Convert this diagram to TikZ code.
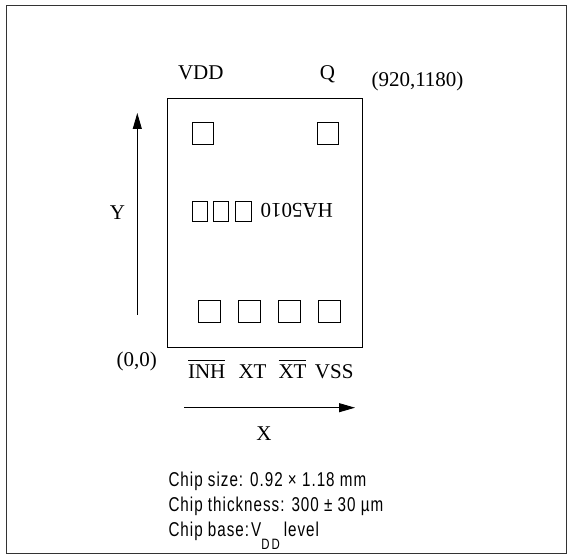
\documentclass[tikz,border=0pt]{standalone}
\usepackage{fontspec}
\setmainfont{Liberation Serif}
\newfontfamily\notefont[FakeStretch=0.76,LetterSpace=5]{Liberation Sans}
\usetikzlibrary{arrows.meta}
\newcommand{\ovlbar}[1]{\ensuremath{\overline{\mbox{#1}\rule{0pt}{17pt}}}}
\tikzset{
  pad/.style={draw, line width=0.9pt, inner sep=0pt, minimum width=21.5pt, minimum height=21.5pt},
  smallpad/.style={draw, line width=0.9pt, inner sep=0pt, minimum height=20pt},
  lbl/.style={font=\fontsize{21}{21}\selectfont, inner sep=0pt, anchor=base},
  note/.style={font=\notefont\fontsize{20}{20}\selectfont, inner sep=0pt, anchor=base west},
  axis/.style={line width=0.9pt, -{Triangle[length=16pt,width=9pt]}}
}
\begin{document}
\begin{tikzpicture}[x=1pt,y=-1pt]
\useasboundingbox (0,0) rectangle (568,556);
\draw[line width=1.3pt, black!80] (6.5,5.5) rectangle (566.5,553.5);
% chip
\node[draw, line width=1.1pt, inner sep=0pt, minimum width=195.3pt, minimum height=249.4pt] (chip) at (264.7,223) {};
% pads
\node[pad] (pvdd) at (202.7,133.5) {};
\node[pad] (pq) at (328,133.5) {};
\node[smallpad, minimum width=14.6pt] (m1) at (200,211.7) {};
\node[smallpad, minimum width=14.8pt] (m2) at (221.1,211.7) {};
\node[smallpad, minimum width=16.7pt] (m3) at (243.4,211.7) {};
\node[lbl, anchor=center, rotate=180] (name) at (296.7,210.5) {HA5010};
\node[pad] (pinh) at (209.2,311.7) {};
\node[pad] (pxt) at (249.2,311.7) {};
\node[pad] (pxtb) at (289.3,311.7) {};
\node[pad] (pvss) at (329.5,311.7) {};
% labels
\node[lbl] (tvdd) at (200.8,80) {VDD};
\node[lbl] (tq) at (327.5,80) {Q};
\node[lbl] (tmax) at (417.5,87) {(920,1180)};
\node[lbl] (torig) at (136.7,366.5) {(0,0)};
\node[lbl] (tinh) at (206.7,378.3) {\ovlbar{INH}};
\node[lbl] (txt) at (252.5,378.3) {XT};
\node[lbl] (txtb) at (292.5,378.3) {\ovlbar{XT}};
\node[lbl] (tvss) at (334.2,378.3) {VSS};
\node[lbl] (ty) at (117.5,220) {Y};
\node[lbl] (tx) at (264,440) {X};
% axes
\coordinate (y0) at (137.3,315);
\coordinate (y1) at (137.3,113);
\coordinate (x0) at (184,407.7);
\coordinate (x1) at (355,407.7);
\draw[axis] (y0) -- (y1);
\draw[axis] (x0) -- (x1);
% notes
\node[note] (n1) at (168.3,486.7) {Chip size: 0.92 × 1.18 mm};
\node[note] (n2) at (168.3,511.3) {Chip thickness: 300 ± 30 µm};
\node[note] (n3) at (168.3,536.5) {Chip base:\hspace{2pt}V\raisebox{-13pt}{\fontsize{15}{15}\selectfont D\hspace{2pt}D}\hspace{4pt}level};
\end{tikzpicture}
\end{document}
